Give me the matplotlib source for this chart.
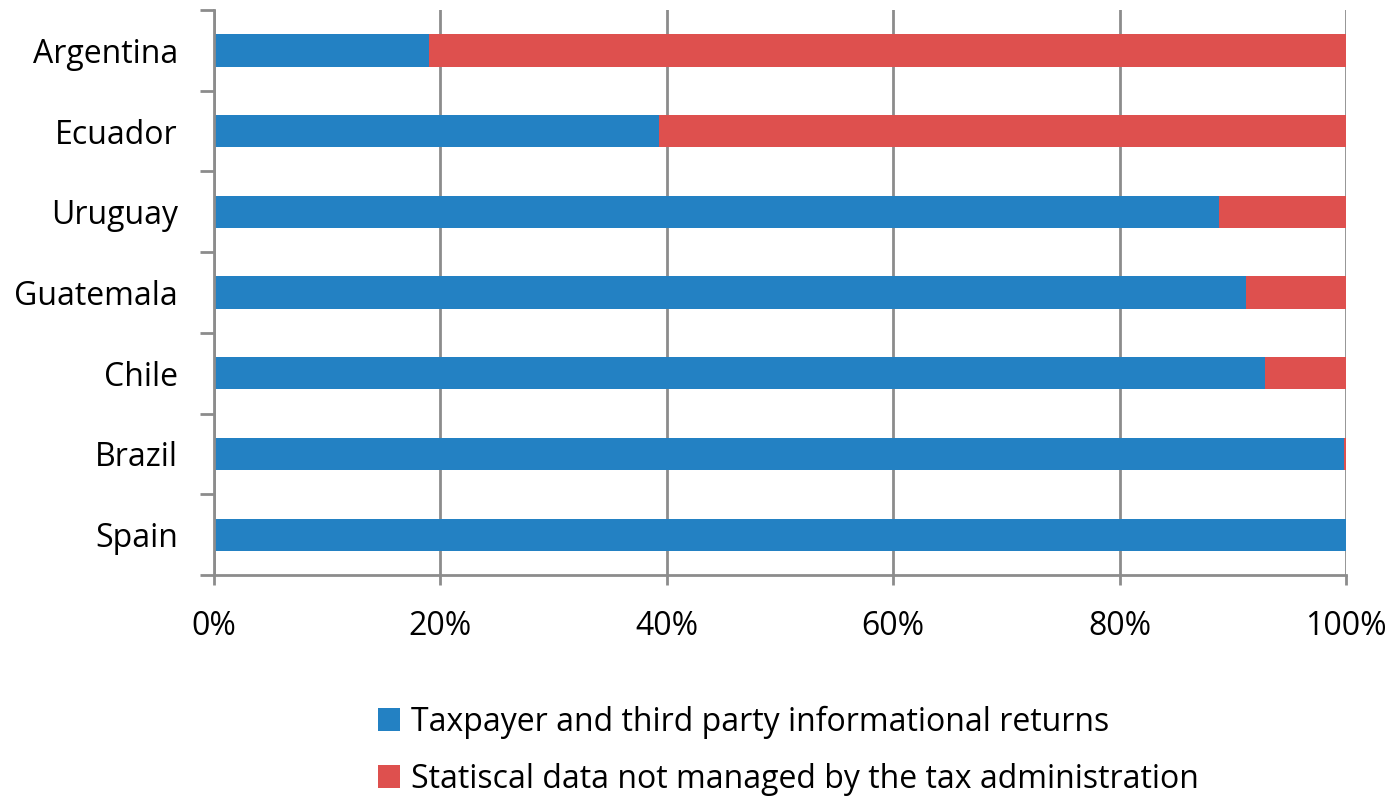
import numpy as np
import matplotlib.pyplot as plt
from matplotlib.ticker import FixedLocator, PercentFormatter

plt.rcParams['font.family'] = ['Open Sans', 'DejaVu Sans']

countries = ["Spain", "Brazil", "Chile", "Guatemala", "Uruguay", "Ecuador", "Argentina"]
taxpayer = [100.0, 99.8, 92.8, 91.2, 88.8, 39.3, 19.0]
statistical = [0.0, 0.2, 7.2, 8.8, 11.2, 60.7, 81.0]

blue = "#2381C3"
red = "#DE504E"
grey = "#8C8C8C"

fig = plt.figure(figsize=(13.95, 8.01), dpi=100)
ax = fig.add_axes([0.1534, 0.2821, 0.8115, 0.7054])

y = np.arange(len(countries))
ax.barh(y, taxpayer, height=0.4, color=blue, label="Taxpayer and third party informational returns")
ax.barh(y, statistical, left=taxpayer, height=0.4, color=red,
        label="Statiscal data not managed by the tax administration")

ax.set_xlim(0, 100)
ax.set_ylim(-0.5, len(countries) - 0.5)
ax.set_xticks(np.arange(0, 101, 20))
ax.xaxis.set_major_formatter(PercentFormatter(decimals=0))
ax.set_yticks(y)
ax.set_yticklabels(countries)
ax.yaxis.set_minor_locator(FixedLocator(np.arange(-0.5, len(countries), 1.0)))

ax.grid(axis="x", color=grey, linewidth=2)
ax.set_axisbelow(True)
for side in ["top", "right"]:
    ax.spines[side].set_visible(False)
for side in ["left", "bottom"]:
    ax.spines[side].set_color(grey)
    ax.spines[side].set_linewidth(2)

ax.tick_params(axis="y", which="major", length=0, pad=26, labelsize=23)
ax.tick_params(axis="y", which="minor", length=10, width=2, color=grey)
ax.tick_params(axis="x", which="major", length=7, width=2, color=grey, pad=18, labelsize=23)

fig.legend(loc="center left", bbox_to_anchor=(0.250, 0.063), frameon=False,
           fontsize=23, handlelength=0.7, handleheight=0.7, handletextpad=0.35,
           labelspacing=0.75)

fig.savefig("out.png", dpi=100)
